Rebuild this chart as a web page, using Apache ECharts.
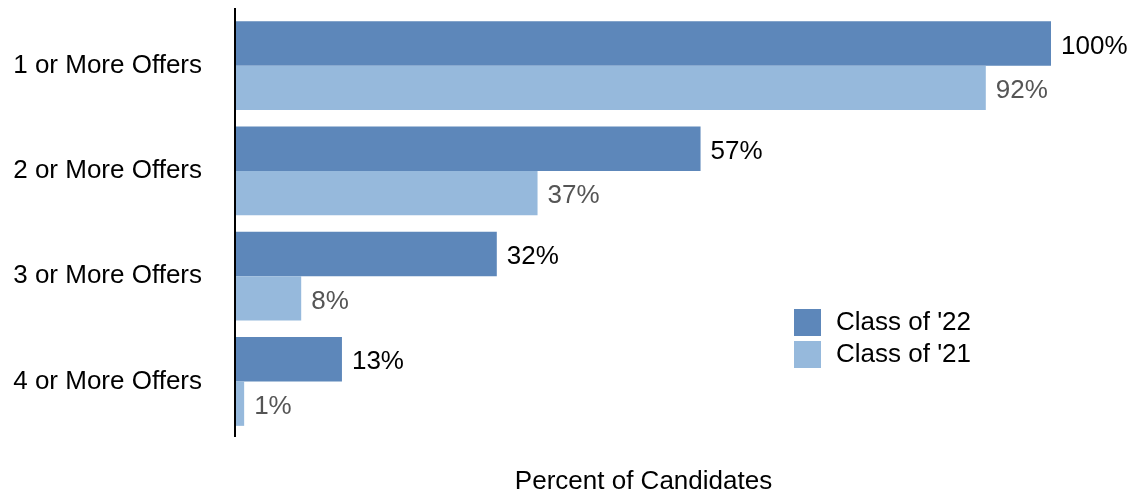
<!DOCTYPE html>
<html>
<head>
<meta charset="utf-8">
<script src="https://cdn.jsdelivr.net/npm/echarts@6/dist/echarts.min.js"></script>
<style>html,body{margin:0;padding:0;background:#fff}#c{width:1138px;height:492px}</style>
</head>
<body>
<div id="c"></div>
<script>
const categories = ['1 or More Offers', '2 or More Offers', '3 or More Offers', '4 or More Offers'];
const class22 = [100, 57, 32, 13];
const class21 = [92, 37, 8, 1];
const seriesNames = ["Class of '22", "Class of '21"];

const font = '"Liberation Sans", Arial, Helvetica, sans-serif';
const fs = 26;
const chart = echarts.init(document.getElementById('c'));
chart.setOption({
  animation: false,
  textStyle: { fontFamily: font },
  grid: { left: 236, right: 87, top: 13, bottom: 58, containLabel: false, outerBoundsMode: 'none' },
  graphic: [{
    type: 'rect', z: 100,
    shape: { x: 234, y: 8, width: 2, height: 429 },
    style: { fill: '#000' }
  }],
  legend: {
    orient: 'vertical', left: 794, top: 309, padding: 0,
    itemWidth: 27, itemHeight: 27, itemGap: 5,
    icon: 'rect',
    textStyle: { fontSize: fs, color: '#000', fontFamily: font, padding: [4, 0, 0, 10] },
    data: seriesNames
  },
  xAxis: {
    type: 'value', min: 0, max: 100,
    axisLine: { show: false }, axisTick: { show: false },
    axisLabel: { show: false }, splitLine: { show: false },
    name: 'Percent of Candidates', nameLocation: 'middle', nameGap: 35,
    nameTextStyle: { fontSize: fs, color: '#000', fontFamily: font }
  },
  yAxis: {
    type: 'category', data: categories, inverse: true,
    axisLine: { show: false },
    axisTick: { show: false },
    axisLabel: { fontSize: fs, color: '#000', margin: 34, fontFamily: font, padding: [5, 0, 0, 0] }
  },
  series: [
    {
      name: seriesNames[0], type: 'bar', data: class22,
      barGap: '0%', barCategoryGap: '15.5%',
      itemStyle: { color: '#5d87ba' },
      label: { show: true, position: 'right', distance: 10, offset: [0, 3], formatter: '{c}%', fontSize: fs, color: '#000', fontFamily: font }
    },
    {
      name: seriesNames[1], type: 'bar', data: class21,
      barGap: '0%', barCategoryGap: '15.5%',
      itemStyle: { color: '#96b9dc' },
      label: { show: true, position: 'right', distance: 10, offset: [0, 3], formatter: '{c}%', fontSize: fs, color: '#555', fontFamily: font }
    }
  ]
});
</script>
</body>
</html>
